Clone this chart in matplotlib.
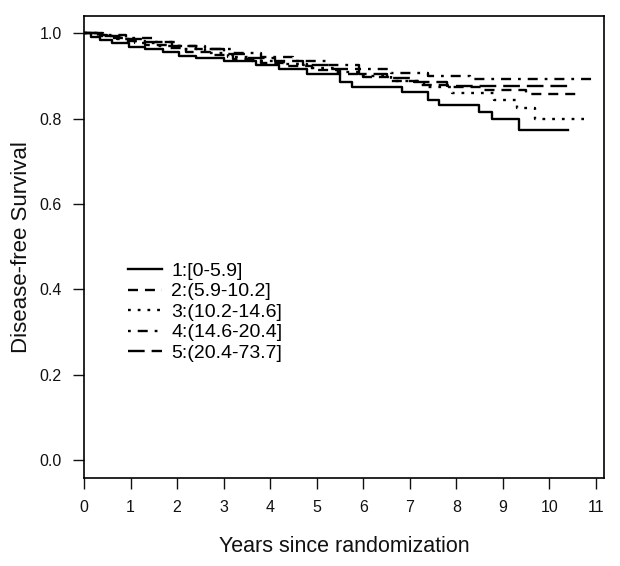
import matplotlib
matplotlib.use('Agg')
import matplotlib.pyplot as plt

plt.rcParams['font.family'] = ['Liberation Sans', 'DejaVu Sans']
plt.rcParams['lines.scale_dashes'] = False

# Kaplan-Meier steps (time in years, survival after the step)
times1 = [0.15, 0.35, 0.6, 0.97, 1.3, 1.7, 2.05, 2.4, 3.0, 3.7, 4.2, 4.8, 5.5, 5.75, 6.83, 7.4, 7.63, 8.49, 8.77, 9.35, 10.4]
surv1 = [0.99, 0.983, 0.977, 0.968, 0.962, 0.955, 0.946, 0.941, 0.935, 0.925, 0.915, 0.905, 0.886, 0.874, 0.863, 0.843, 0.831, 0.816, 0.80, 0.773, 0.773]

times2 = [0.2, 0.5, 0.9, 1.3, 1.8, 2.2, 2.7, 3.2, 3.8, 4.3, 4.9, 5.5, 6.0, 6.6, 7.2, 7.9, 8.6, 9.5, 10.7]
surv2 = [0.995, 0.988, 0.981, 0.973, 0.965, 0.957, 0.948, 0.94, 0.931, 0.923, 0.914, 0.905, 0.897, 0.888, 0.879, 0.874, 0.868, 0.858, 0.858]

times3 = [0.3, 0.7, 1.1, 1.6, 2.1, 2.6, 3.1, 3.6, 4.2, 4.8, 5.4, 6.0, 6.6, 7.3, 7.9, 8.8, 9.3, 9.7, 10.75]
surv3 = [0.993, 0.986, 0.978, 0.97, 0.962, 0.953, 0.944, 0.935, 0.927, 0.918, 0.909, 0.9, 0.888, 0.874, 0.859, 0.843, 0.824, 0.80, 0.80]

times4 = [0.4, 0.9, 1.5, 2.0, 2.6, 3.2, 3.8, 4.5, 5.2, 5.9, 6.6, 7.4, 8.3, 11.0]
surv4 = [0.995, 0.988, 0.98, 0.971, 0.962, 0.953, 0.944, 0.935, 0.926, 0.916, 0.907, 0.899, 0.893, 0.893]

times5 = [0.3, 0.8, 1.3, 1.9, 2.4, 3.0, 3.5, 4.1, 4.7, 5.3, 5.9, 6.5, 7.1, 7.8, 10.5]
surv5 = [0.994, 0.987, 0.979, 0.97, 0.962, 0.952, 0.943, 0.934, 0.925, 0.915, 0.905, 0.896, 0.886, 0.876, 0.876]

labels = ['1:[0-5.9]', '2:(5.9-10.2]', '3:(10.2-14.6]', '4:(14.6-20.4]', '5:(20.4-73.7]']
x_ticks = list(range(0, 12))
y_ticks = [0.0, 0.2, 0.4, 0.6, 0.8, 1.0]

# R-like line types (on/off in points)
styles = [None, (7.2, 5.0), (2.0, 5.0), (2.0, 5.0, 7.2, 5.0), (12.0, 5.0)]

fig = plt.figure(figsize=(6.2, 5.66), dpi=100)
ax = fig.add_axes([0.1355, 0.1555, 0.8385, 0.816])

curves = [(times1, surv1), (times2, surv2), (times3, surv3), (times4, surv4), (times5, surv5)]
for (t, s), lab, dash in zip(curves, labels, styles):
    line, = ax.step([0.0] + t, [1.0] + s, where='post', color='black', lw=1.7, label=lab)
    if dash is not None:
        line.set_dashes(dash)

ax.set_xlim(0, 11.17)
ax.set_ylim(-0.042, 1.04)
ax.set_xticks(x_ticks)
ax.set_yticks(y_ticks)
ax.set_yticklabels([f'{v:.1f}' for v in y_ticks])
ax.tick_params(axis='both', direction='out', length=8, width=1, labelsize=11.5, colors='#111111')
ax.tick_params(axis='x', pad=8)
ax.tick_params(axis='y', pad=8)
for sp in ax.spines.values():
    sp.set_linewidth(1.2)

ax.set_xlabel('Years since randomization', fontsize=15.5, labelpad=15, color='#111111')
ax.set_ylabel('Disease-free Survival', fontsize=16, labelpad=5, color='#111111')

ax.legend(loc='upper left', bbox_to_anchor=(0.05, 0.505), frameon=False,
          fontsize=14, handlelength=1.75, handletextpad=0.5, labelspacing=0.15)

fig.savefig('out.png', dpi=100)
